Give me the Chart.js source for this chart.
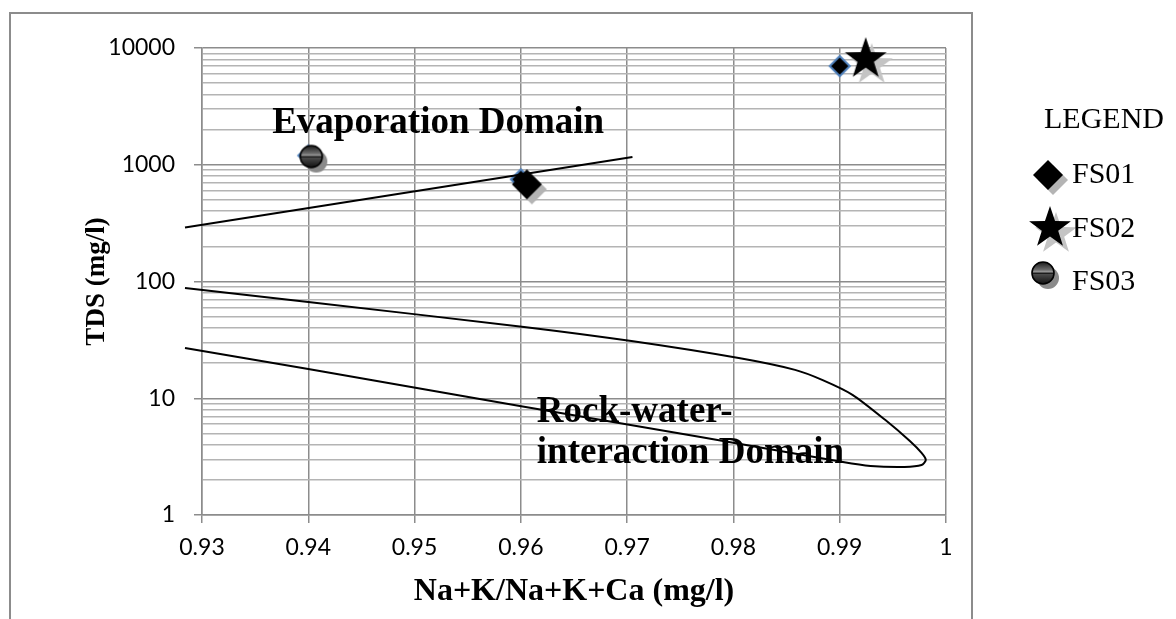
<!DOCTYPE html>
<html>
<head>
<meta charset="utf-8">
<script src="https://cdn.jsdelivr.net/npm/chart.js@4/dist/chart.umd.min.js"></script>
<style>
  html, body { margin: 0; padding: 0; background: #fff; }
  #wrap { position: relative; width: 1176px; height: 619px; }
</style>
</head>
<body>
<div id="wrap"><canvas id="chart" width="1176" height="619"></canvas></div>
<script>
// --- data ---
const seriesNames = ['FS01', 'FS02', 'FS03'];
const ratioValues = [0.96, 0.99, 0.94];       // Na+K/Na+K+Ca
const tdsValues = [750, 7000, 1200];          // TDS (mg/l)

// boundary of the evaporation domain (straight line on the log plot)
const evapLineX = [0.9284, 0.9705];
const evapLineY = [290, 1165];

// rock-water-interaction envelope (upper branch, round the tip, lower branch)
const rockLoopX = [0.9284, 0.9400, 0.9603, 0.9704, 0.9805, 0.9858, 0.9884, 0.9912, 0.9943, 0.9966,
                   0.9977, 0.9981, 0.9977, 0.9961, 0.9929, 0.9903, 0.9769, 0.9599, 0.9400, 0.9284];
const rockLoopY = [88, 66.7, 40.8, 30.9, 22.1, 17.5, 14.3, 10.7, 6.5, 4.3,
                   3.4, 2.96, 2.68, 2.58, 2.63, 2.84, 4.66, 8.58, 17.8, 26.9];

// axes
const xTickValues = [0.93, 0.94, 0.95, 0.96, 0.97, 0.98, 0.99, 1.0];
const yMajorTicks = [1, 10, 100, 1000, 10000];
const yMinorSteps = [2, 3, 4, 5, 6, 7, 8, 9];

// text placed in the plot (anchored in data units)
const domainLabels = [
  { lines: ['Evaporation Domain'], x: 0.9366, y: 1870 },
  { lines: ['Rock-water-', 'interaction Domain'], x: 0.9615, y: 6.3 }
];

// --- marker drawing ---
const markerLook = [
  { shape: 'diamond', dx: 6, dy: 5 },
  { shape: 'star', dx: 26, dy: -7 },
  { shape: 'circle', dx: 3, dy: 1 }
];

function drawShape(g, shape, x, y, shadow) {
  g.beginPath();
  if (shape === 'diamond') {
    const r = 15;
    g.moveTo(x, y - r); g.lineTo(x + r, y); g.lineTo(x, y + r); g.lineTo(x - r, y);
    g.closePath();
    g.fillStyle = shadow ? '#b4b4b4' : '#000';
    g.fill();
  } else if (shape === 'star') {
    const R = 22, r = 8.6;
    for (let k = 0; k < 10; k++) {
      const a = -Math.PI / 2 + k * Math.PI / 5;
      const rr = k % 2 ? r : R;
      g.lineTo(x + rr * Math.cos(a), y + rr * Math.sin(a));
    }
    g.closePath();
    g.fillStyle = shadow ? '#c4c4c4' : '#000';
    g.fill();
  } else {
    const r = 11;
    g.arc(x, y, r, 0, Math.PI * 2);
    if (shadow) {
      g.fillStyle = '#8a8a8a';
      g.fill();
    } else {
      const grad = g.createLinearGradient(0, y - r, 0, y + r);
      grad.addColorStop(0, '#1a1a1a');
      grad.addColorStop(0.35, '#6a6a6a');
      grad.addColorStop(0.46, '#a0a0a0');
      grad.addColorStop(0.5, '#000');
      grad.addColorStop(0.56, '#4a4a4a');
      grad.addColorStop(1, '#111');
      g.fillStyle = grad;
      g.fill();
      g.lineWidth = 1.6;
      g.strokeStyle = '#000';
      g.stroke();
    }
  }
}

function makeMarker(look, withPoint) {
  const size = 120;
  const c = document.createElement('canvas');
  c.width = size; c.height = size;
  const g = c.getContext('2d');
  const cx = size / 2, cy = size / 2;
  if (withPoint) {
    // the small Excel marker at the data point
    const r = 10;
    g.beginPath();
    g.moveTo(cx, cy - r); g.lineTo(cx + r, cy); g.lineTo(cx, cy + r); g.lineTo(cx - r, cy);
    g.closePath();
    g.fillStyle = '#000';
    g.fill();
    g.lineWidth = 2;
    g.strokeStyle = '#4f81bd';
    g.stroke();
  }
  const ox = withPoint ? look.dx : 0, oy = withPoint ? look.dy : 0;
  const sh = look.shape === 'star' ? 6 : 5;
  drawShape(g, look.shape, cx + ox + sh, cy + oy + sh, true);
  drawShape(g, look.shape, cx + ox, cy + oy, false);
  return c;
}

const plotMarkers = markerLook.map(l => makeMarker(l, true));
const legendMarkers = markerLook.map(l => makeMarker(l, false));

// --- datasets ---
const zip = (xs, ys) => xs.map((v, i) => ({ x: v, y: ys[i] }));

const datasets = [
  {
    label: 'evaporation boundary',
    data: zip(evapLineX, evapLineY),
    showLine: true, borderColor: '#000', borderWidth: 2,
    pointRadius: 0, clip: false
  },
  {
    label: 'rock-water boundary',
    data: zip(rockLoopX, rockLoopY),
    showLine: true, borderColor: '#000', borderWidth: 2, tension: 0.25,
    pointRadius: 0, clip: false
  }
];
seriesNames.forEach((name, i) => {
  datasets.push({
    label: name,
    data: [{ x: ratioValues[i], y: tdsValues[i] }],
    pointStyle: plotMarkers[i],
    pointRadius: 20,
    showLine: false,
    clip: false
  });
});

// legend layout on the right
const legendSymbolPos = [[1048, 175], [1050, 228], [1043, 273]];
const legendTextBase = [183, 237, 290];

const decorPlugin = {
  id: 'decor',
  beforeDraw(chart) {
    const ctx = chart.ctx;
    ctx.save();
    ctx.fillStyle = '#fff';
    ctx.fillRect(0, 0, chart.width, chart.height);
    ctx.strokeStyle = '#8c8c8c';
    ctx.lineWidth = 2;
    ctx.strokeRect(10, 13, 962, 800);
    ctx.restore();
  },
  afterDatasetsDraw(chart) {
    const { ctx, scales: { x, y } } = chart;
    ctx.save();
    ctx.fillStyle = '#000';
    ctx.textAlign = 'left';
    ctx.textBaseline = 'alphabetic';
    ctx.font = 'bold 37px "Liberation Serif"';
    domainLabels.forEach(l => {
      const px = x.getPixelForValue(l.x);
      const py = y.getPixelForValue(l.y);
      l.lines.forEach((t, i) => ctx.fillText(t, px, py + i * 41));
    });

    ctx.font = '30px "Liberation Serif"';
    ctx.fillText('LEGEND', 1044, 128);
    seriesNames.forEach((name, i) => {
      const m = legendMarkers[i];
      const [lx, ly] = legendSymbolPos[i];
      ctx.drawImage(m, lx - m.width / 2, ly - m.height / 2);
      ctx.fillText(name, 1072, legendTextBase[i]);
    });
    ctx.restore();
  }
};

const yTickValues = [];
yMajorTicks.forEach((d, i) => {
  yTickValues.push(d);
  if (i < yMajorTicks.length - 1) yMinorSteps.forEach(m => yTickValues.push(m * d));
});
const isMajorY = v => yMajorTicks.includes(v);

new Chart(document.getElementById('chart'), {
  type: 'scatter',
  data: { datasets },
  plugins: [decorPlugin],
  options: {
    responsive: false,
    animation: false,
    layout: { padding: { left: 0, top: 48, right: 230, bottom: 0 } },
    plugins: { legend: { display: false }, tooltip: { enabled: false } },
    scales: {
      x: {
        type: 'linear',
        min: 0.93, max: 1.0,
        afterBuildTicks: s => { s.ticks = xTickValues.map(v => ({ value: v })); },
        afterFit: s => { s.height = 104; },
        grid: { color: '#8c8c8c', lineWidth: 1.5, tickLength: 8, tickColor: '#8c8c8c' },
        border: { color: '#8c8c8c', width: 1.5 },
        ticks: {
          autoSkip: false, maxRotation: 0, padding: 11, color: '#000',
          font: { family: 'Lato', size: 23 },
          callback: v => String(+Number(v).toFixed(2))
        },
        title: {
          display: true, text: 'Na+K/Na+K+Ca (mg/l)', color: '#000',
          font: { family: 'Liberation Serif', size: 32, weight: 'bold' },
          padding: { top: 0, bottom: 8 }
        }
      },
      y: {
        type: 'logarithmic',
        min: 1, max: 10000,
        afterBuildTicks: s => { s.ticks = yTickValues.map(v => ({ value: v })); },
        afterFit: s => { s.width = 202; },
        grid: {
          color: c => isMajorY(c.tick.value) ? '#8c8c8c' : '#b4b4b4',
          lineWidth: 1.5,
          tickLength: 8,
          tickColor: c => isMajorY(c.tick.value) ? '#8c8c8c' : 'rgba(0,0,0,0)'
        },
        border: { color: '#8c8c8c', width: 1.5 },
        ticks: {
          autoSkip: false, padding: 19, color: '#000',
          font: { family: 'Lato', size: 23 },
          callback: v => isMajorY(v) ? String(v) : ''
        },
        title: {
          display: true, text: 'TDS (mg/l)', color: '#000',
          font: { family: 'Liberation Serif', size: 27, weight: 'bold' },
          padding: { top: 81, bottom: 0 }
        }
      }
    }
  }
});
</script>
</body>
</html>
